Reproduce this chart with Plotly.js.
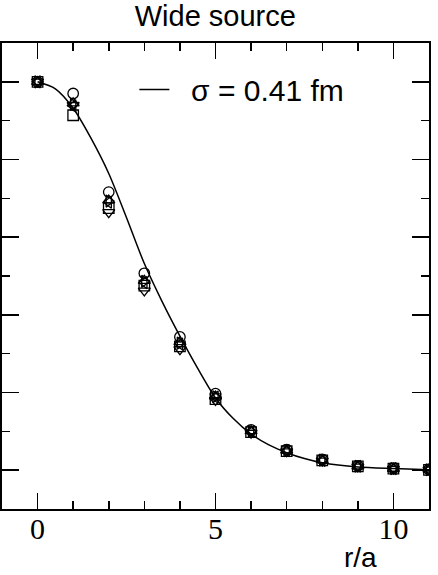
<!DOCTYPE html>
<html>
<head>
<meta charset="utf-8">
<script src="https://cdn.plot.ly/plotly-3.0.1.min.js"></script>
<style>html,body{margin:0;padding:0;background:#fff;}#chart{width:438px;height:575px;}</style>
</head>
<body>
<div id="chart"></div>
<script>
// r/a positions
const rVals = [0, 1, 2, 3, 4, 5, 6, 7, 8, 9, 10, 11];
// data series
const seriesCircle   = [1.000, 0.970, 0.716, 0.507, 0.343, 0.197, 0.104, 0.053, 0.028, 0.011, 0.005, 0.002];
const seriesTriUp    = [1.000, 0.945, 0.695, 0.488, 0.330, 0.190, 0.101, 0.051, 0.026, 0.010, 0.004, 0.002];
const seriesTriRight = [1.000, 0.942, 0.693, 0.486, 0.327, 0.189, 0.100, 0.050, 0.026, 0.010, 0.004, 0.001];
const seriesTriLeft  = [1.000, 0.938, 0.690, 0.483, 0.325, 0.188, 0.099, 0.050, 0.025, 0.010, 0.004, 0.001];
const seriesSquare   = [1.000, 0.914, 0.675, 0.475, 0.319, 0.183, 0.098, 0.049, 0.025, 0.010, 0.004, 0.001];
const seriesTriDown  = [1.000, 0.940, 0.664, 0.462, 0.311, 0.180, 0.096, 0.048, 0.024, 0.009, 0.003, 0.001];
// fitted curve samples
const curveR = [0, 0.5, 1, 1.5, 2, 2.5, 3, 3.5, 4, 4.5, 5, 5.5, 6, 6.5, 7, 7.5, 8, 9, 10, 11];
const curveY = [1.000, 0.982, 0.932, 0.855, 0.764, 0.650, 0.532, 0.434, 0.345, 0.262, 0.186, 0.133, 0.093, 0.065, 0.045, 0.030, 0.019, 0.008, 0.004, 0.001];
const curveLabel = "σ = 0.41 fm";
const xTickVals = [0, 5, 10];
const xTickText = ["0", "5", "10"];

const markerSeries = [
  {y: seriesSquare, symbol: 'square-open'},
  {y: seriesTriDown, symbol: 'triangle-down-open'},
  {y: seriesTriLeft, symbol: 'triangle-left-open'},
  {y: seriesTriRight, symbol: 'triangle-right-open'},
  {y: seriesTriUp, symbol: 'triangle-up-open'},
  {y: seriesCircle, symbol: 'circle-open'}
];

const traces = [{
  x: curveR, y: curveY, mode: 'lines', name: '\u00a0\u00a0' + curveLabel,
  line: {color: '#000', width: 1.5, shape: 'spline', smoothing: 0.8},
  showlegend: true, hoverinfo: 'skip'
}];
markerSeries.forEach(s => {
  traces.push({
    x: rVals, y: s.y, mode: 'markers', showlegend: false,
    marker: {symbol: s.symbol, size: 10.5, color: '#000', line: {color: '#000', width: 1.3}}
  });
});

const sans = '"Liberation Sans", Arial, sans-serif';
const serif = '"Liberation Serif", "Times New Roman", serif';

const layout = {
  width: 438, height: 575,
  margin: {l: 2, r: 9, t: 43, b: 66, pad: 0},
  paper_bgcolor: '#fff', plot_bgcolor: '#fff',
  title: {text: 'Wide source', x: 0.4915, xanchor: 'center', y: 0.972, yanchor: 'middle', yref: 'container',
          font: {family: sans, size: 29, color: '#000'}},
  xaxis: {
    range: [-1, 11], showgrid: false, zeroline: false,
    showline: true, linecolor: '#000', linewidth: 2, mirror: 'ticks',
    ticks: 'inside', ticklen: 16, tickwidth: 1.5, tickcolor: '#000',
    tickmode: 'array', tickvals: xTickVals, ticktext: xTickText,
    tickfont: {family: serif, size: 30, color: '#000'},
    ticklabelstandoff: -8,
    minor: {dtick: 1, tick0: 0, ticks: 'inside', ticklen: 8, tickwidth: 1.5, tickcolor: '#000', showgrid: false},
    fixedrange: true
  },
  yaxis: {
    range: [-0.1, 1.1], showgrid: false, zeroline: false,
    showline: true, linecolor: '#000', linewidth: 2, mirror: 'ticks',
    ticks: 'inside', ticklen: 17, tickwidth: 1.5, tickcolor: '#000',
    tick0: 0, dtick: 0.2, showticklabels: false,
    minor: {dtick: 0.1, tick0: 0, ticks: 'inside', ticklen: 8, tickwidth: 1.5, tickcolor: '#000', showgrid: false},
    fixedrange: true
  },
  showlegend: true,
  legend: {x: 0.31, xanchor: 'left', y: 0.90, yanchor: 'middle', bgcolor: 'rgba(0,0,0,0)', borderwidth: 0,
           font: {family: sans, size: 30, color: '#000'}},
  annotations: [{
    text: 'r/a', xref: 'paper', yref: 'paper', x: 0.84, y: -0.104, xanchor: 'center', yanchor: 'middle',
    showarrow: false, font: {family: sans, size: 28, color: '#000'}
  }]
};

Plotly.newPlot('chart', traces, layout, {displayModeBar: false, staticPlot: true});
</script>
</body>
</html>
